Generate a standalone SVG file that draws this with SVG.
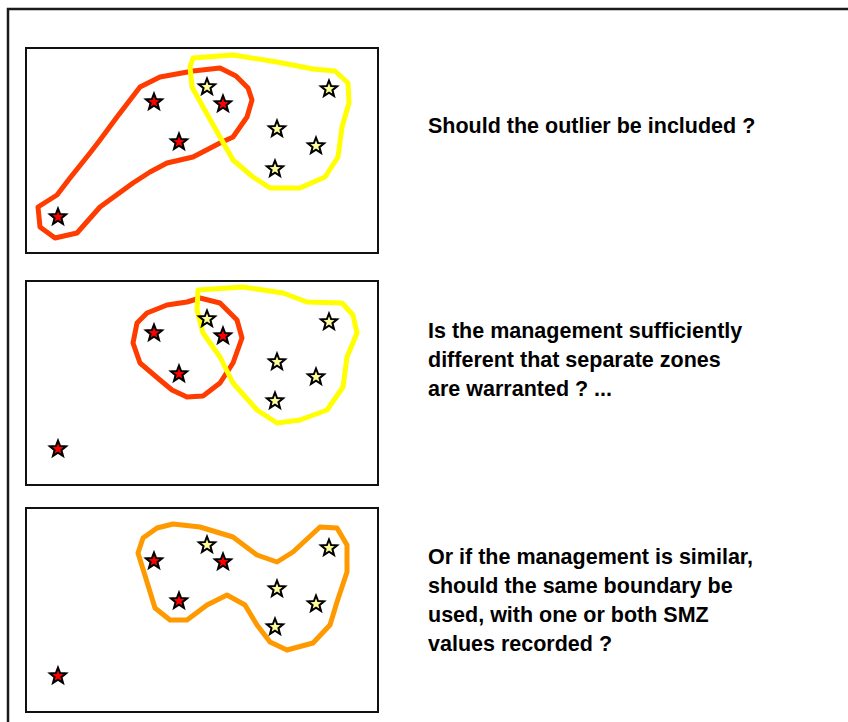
<svg xmlns="http://www.w3.org/2000/svg" xmlns:xlink="http://www.w3.org/1999/xlink" width="848" height="722" viewBox="0 0 848 722">
<style>
.frame{fill:none;stroke:#1a1a1a;stroke-width:2.5}
.panel{fill:#fff;stroke:#111;stroke-width:2}
.loop{fill:none;stroke-width:5;stroke-linejoin:round;stroke-linecap:round}
.red-loop{stroke:#ff3c00}
.yel-loop{stroke:#ffff00}
.org-loop{stroke:#ff9900}
.sr{fill:#ff0000}
.sy{fill:#ffff99}
.q{font-family:"Liberation Sans",Arial,sans-serif;font-weight:bold;font-size:21.5px;fill:#000}
</style>
<defs>
<path id="star" d="M0,-8.5 L2.12,-2.91 L8.08,-2.63 L3.42,1.11 L5,6.88 L0,3.6 L-5,6.88 L-3.42,1.11 L-8.08,-2.63 L-2.12,-2.91 Z" stroke="#000" stroke-width="2" stroke-linejoin="miter"/>
</defs>
<rect width="848" height="722" fill="#fff"/>
<rect class="frame" x="8" y="9" width="870" height="740"/>

<g id="panel1">
<rect class="panel" x="26" y="48" width="352" height="205"/>
<g id="connectors1">
<polygon class="loop red-loop" points="220,68 236,76 248,88 252,100 247,117 233,137 220,143 193,157 167,163 150,172 133,183 100,207 77,233 55,238 40,227 38,207 57,195 70,178 90,153 100,140 117,117 140,87 160,77 193,71"/>
<polygon class="loop yel-loop" points="193,58 233,55 277,62 313,69 335,71 348,83 349,103 342,127 338,157 325,177 300,188 270,188 253,177 233,160 220,137 203,107 192,87 190,67"/>
</g>
<use xlink:href="#star" class="sr" x="154" y="102"/>
<use xlink:href="#star" class="sy" x="207" y="87"/>
<use xlink:href="#star" class="sr" x="223" y="104"/>
<use xlink:href="#star" class="sr" x="179" y="142"/>
<use xlink:href="#star" class="sy" x="329" y="89"/>
<use xlink:href="#star" class="sy" x="277" y="129"/>
<use xlink:href="#star" class="sy" x="316" y="146"/>
<use xlink:href="#star" class="sy" x="275" y="169"/>
<use xlink:href="#star" class="sr" x="58" y="217"/>
</g>

<g id="panel2">
<rect class="panel" x="26" y="281" width="352" height="204"/>
<g id="connectors2">
<polygon class="loop red-loop" points="200,298 220,303 237,320 242,338 233,363 220,383 203,396 187,397 172,390 160,380 140,363 133,343 137,323 147,313 167,305 187,302"/>
<polygon class="loop yel-loop" points="198,290 243,287 283,293 307,302 342,303 353,315 357,333 347,357 343,387 327,410 300,420 277,423 257,410 233,383 220,357 203,333 197,310"/>
</g>
<use xlink:href="#star" class="sr" x="154" y="333"/>
<use xlink:href="#star" class="sy" x="207" y="319"/>
<use xlink:href="#star" class="sr" x="223" y="336"/>
<use xlink:href="#star" class="sr" x="179" y="374"/>
<use xlink:href="#star" class="sy" x="329" y="322"/>
<use xlink:href="#star" class="sy" x="277" y="362"/>
<use xlink:href="#star" class="sy" x="316" y="377"/>
<use xlink:href="#star" class="sy" x="275" y="401"/>
<use xlink:href="#star" class="sr" x="58" y="449"/>
</g>

<g id="panel3">
<rect class="panel" x="26" y="508" width="352" height="204"/>
<g id="connectors3">
<polygon class="loop org-loop" points="173,524 200,527 233,537 257,555 277,562 293,552 320,527 337,528 347,545 347,572 337,602 330,625 313,643 287,650 270,642 257,625 245,605 227,595 207,605 187,620 170,620 155,608 147,582 138,553 143,538 157,528"/>
</g>
<use xlink:href="#star" class="sr" x="154" y="561"/>
<use xlink:href="#star" class="sy" x="207" y="545"/>
<use xlink:href="#star" class="sr" x="223" y="562"/>
<use xlink:href="#star" class="sr" x="179" y="601"/>
<use xlink:href="#star" class="sy" x="329" y="548"/>
<use xlink:href="#star" class="sy" x="277" y="589"/>
<use xlink:href="#star" class="sy" x="316" y="604"/>
<use xlink:href="#star" class="sy" x="275" y="627"/>
<use xlink:href="#star" class="sr" x="58" y="676"/>
</g>

<g id="text1">
<text class="q" x="428" y="133">Should the outlier be included ?</text>
</g>
<g id="text2">
<text class="q" x="428" y="338">Is the management sufficiently</text>
<text class="q" x="428" y="367">different that separate zones</text>
<text class="q" x="428" y="396">are warranted ? ...</text>
</g>
<g id="text3">
<text class="q" x="428" y="564">Or if the management is similar,</text>
<text class="q" x="428" y="593">should the same boundary be</text>
<text class="q" x="428" y="622">used, with one or both SMZ</text>
<text class="q" x="428" y="651">values recorded ?</text>
</g>
</svg>
